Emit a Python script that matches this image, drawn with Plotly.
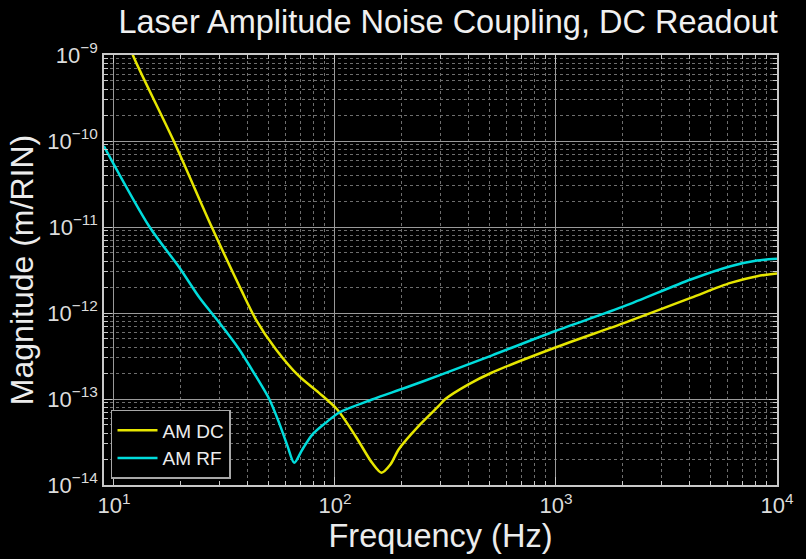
import plotly.graph_objects as go

# AM DC (yellow)
dc_freq = [11.93, 12.18, 18.64, 27.7, 37.6, 43.9, 54.1, 68.8, 84.7, 102.4,
           124.0, 147.2, 162.3, 178.2, 194.2, 238.9, 294.1, 316.0, 402, 511, 986.5, 2039,
           4069, 6162, 8128, 10000]
dc_mag = [1.22e-9, 1.0e-9, 1.0e-10, 1.0e-11, 1.87e-12, 8.4e-13, 3.77e-13, 1.84e-13,
          1.18e-13, 7.55e-14, 3.69e-14, 1.81e-14, 1.39e-14, 1.73e-14,
          2.59e-14, 4.83e-14, 8.24e-14, 1.0e-13, 1.48e-13, 2.02e-13, 3.94e-13, 7.69e-13,
          1.5e-12, 2.24e-12, 2.68e-12, 2.88e-12]

# AM RF (cyan)
rf_freq = [9.0, 14.5, 19.8, 24.4, 30.0, 36.9, 43.9, 50.4, 55.9, 61.0, 65.4, 71.2, 79.0,
           90.8, 104.2, 147.2, 208.2, 294.1, 511, 986.5, 2039, 4069, 6162, 8128, 10000]
rf_mag = [8.75e-11, 1.0e-11, 3.36e-12, 1.5e-12, 7.69e-13, 3.77e-13, 1.84e-13, 1.0e-13,
          5.28e-14, 2.83e-14, 1.81e-14, 2.59e-14, 3.86e-14, 5.28e-14, 6.92e-14, 9.86e-14,
          1.35e-13, 1.87e-13, 3.2e-13, 6.14e-13, 1.2e-12, 2.45e-12, 3.5e-12, 4.07e-12,
          4.27e-12]

x_tickvals = [10, 100, 1000, 10000]
x_ticktext = ["10<sup>1</sup>", "10<sup>2</sup>", "10<sup>3</sup>", "10<sup>4</sup>"]
y_tickvals = [1e-14, 1e-13, 1e-12, 1e-11, 1e-10, 1e-9]
y_ticktext = ["10<sup>−14</sup>", "10<sup>−13</sup>", "10<sup>−12</sup>",
              "10<sup>−11</sup>", "10<sup>−10</sup>", "10<sup>−9</sup>"]

FONT = "Liberation Sans, Arial, sans-serif"

fig = go.Figure()
fig.add_trace(go.Scatter(x=dc_freq, y=dc_mag, mode="lines", name="AM DC",
                         line=dict(color="#e6e600", width=2.5, shape="spline", smoothing=0.8)))
fig.add_trace(go.Scatter(x=rf_freq, y=rf_mag, mode="lines", name="AM RF",
                         line=dict(color="#00dcdc", width=2.5, shape="spline", smoothing=0.8)))

axis_common = dict(
    showline=True, linecolor="#c8c8c8", linewidth=1.5, mirror="allticks",
    ticks="inside", ticklen=8, tickcolor="#c8c8c8",
    showgrid=True, gridcolor="#9a9a9a", gridwidth=1,
    zeroline=False,
    tickfont=dict(family=FONT, size=22, color="#dcdcdc"),
    minor=dict(ticks="inside", ticklen=4, tickcolor="#c8c8c8", showgrid=True,
               gridcolor="#6e6e6e", griddash="dot", gridwidth=1, dtick="D1"),
)

fig.update_xaxes(type="log", range=[0.955, 4], tickvals=x_tickvals, ticktext=x_ticktext,
                 title=dict(text="Frequency (Hz)", font=dict(family=FONT, size=32.5, color="#ececec"),
                            standoff=6),
                 **axis_common)
fig.update_yaxes(type="log", range=[-14, -9], tickvals=y_tickvals, ticktext=y_ticktext,
                 title=dict(text="Magnitude (m/RIN)", font=dict(family=FONT, size=32, color="#ececec"),
                            standoff=4),
                 **axis_common)

fig.update_layout(
    width=806, height=559,
    margin=dict(l=104, r=27, t=55, b=74),
    paper_bgcolor="black", plot_bgcolor="black",
    title=dict(text="Laser Amplitude Noise Coupling, DC Readout",
               font=dict(family=FONT, size=32.5, color="#f0f0f0"),
               x=0.556, xanchor="center", y=0.962, yanchor="middle"),
    legend=dict(x=0.0104, y=0.014, xanchor="left", yanchor="bottom",
                bgcolor="black", bordercolor="#a8a8a8", borderwidth=1.5,
                font=dict(family=FONT, size=19, color="#ececec"),
                tracegroupgap=0, itemwidth=40),
    showlegend=True,
)

fig.write_html("out.html")
